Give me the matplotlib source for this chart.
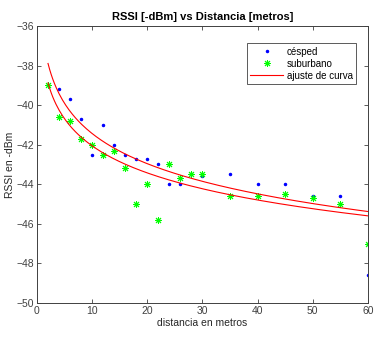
import numpy as np
import matplotlib.pyplot as plt

plt.rcParams['font.family'] = ['Liberation Sans', 'DejaVu Sans']

# cesped measurements
cesped_x = [4, 6, 8, 10, 12, 14, 16, 18, 20, 22, 24, 26, 28, 30, 35, 40, 45, 50, 55, 60]
cesped_y = [-39.2, -39.7, -40.7, -42.5, -41.0, -42.0, -42.5, -42.7, -42.7, -43.0,
            -44.0, -44.0, -43.5, -43.6, -43.5, -44.0, -44.0, -44.6, -44.6, -48.6]

# suburbano measurements
sub_x = [2, 4, 6, 8, 10, 12, 14, 16, 18, 20, 22, 24, 26, 28, 30, 35, 40, 45, 50, 55, 60]
sub_y = [-39.0, -40.6, -40.8, -41.7, -42.0, -42.5, -42.3, -43.2, -45.0, -44.0, -45.8,
         -43.0, -43.7, -43.5, -43.5, -44.6, -44.6, -44.5, -44.7, -45.0, -47.0]

# curve fits  y = a + b*ln(d)
fit_a = [-36.37, -37.51]
fit_b = [-2.20, -1.975]
fit_range = [2, 60]

fig = plt.figure(figsize=(3.79, 3.40), dpi=100)
ax = fig.add_axes([0.0976, 0.109, 0.873, 0.8145])

ax.plot(cesped_x, cesped_y, '.', color='blue', markersize=3, label='césped')
ax.plot(sub_x, sub_y, linestyle='none', marker=(8, 2, 0), color='#00ff00',
        markersize=5, markeredgewidth=0.7, label='suburbano')

d = np.linspace(fit_range[0], fit_range[1], 200)
for i in range(len(fit_a)):
    ax.plot(d, fit_a[i] + fit_b[i] * np.log(d), color='red', linewidth=0.8,
            label='ajuste de curva' if i == 0 else None)

ax.set_xlim(0, 60)
ax.set_ylim(-50, -36)
ax.set_xticks(range(0, 61, 10))
ax.set_yticks(range(-50, -35, 2))
ax.tick_params(direction='in', top=True, right=True, length=3, width=0.6,
               labelsize=7.5, colors='#404040', pad=2)
for s in ax.spines.values():
    s.set_color('#404040')
    s.set_linewidth(0.7)

ax.set_title('RSSI [-dBm] vs Distancia [metros]', fontsize=8, fontweight='bold', pad=4)
ax.set_xlabel('distancia en metros', fontsize=7.5, color='#262626', labelpad=2)
ax.set_ylabel('RSSI en -dBm', fontsize=7.5, color='#262626', labelpad=1)

leg = ax.legend(loc='upper right', bbox_to_anchor=(0.98, 0.955), fontsize=7,
                fancybox=False, framealpha=1, edgecolor='#404040',
                handlelength=3.4, borderpad=0.35, labelspacing=0.2, handletextpad=0.4)
leg.get_frame().set_linewidth(0.6)

plt.savefig('out.png', dpi=100)
